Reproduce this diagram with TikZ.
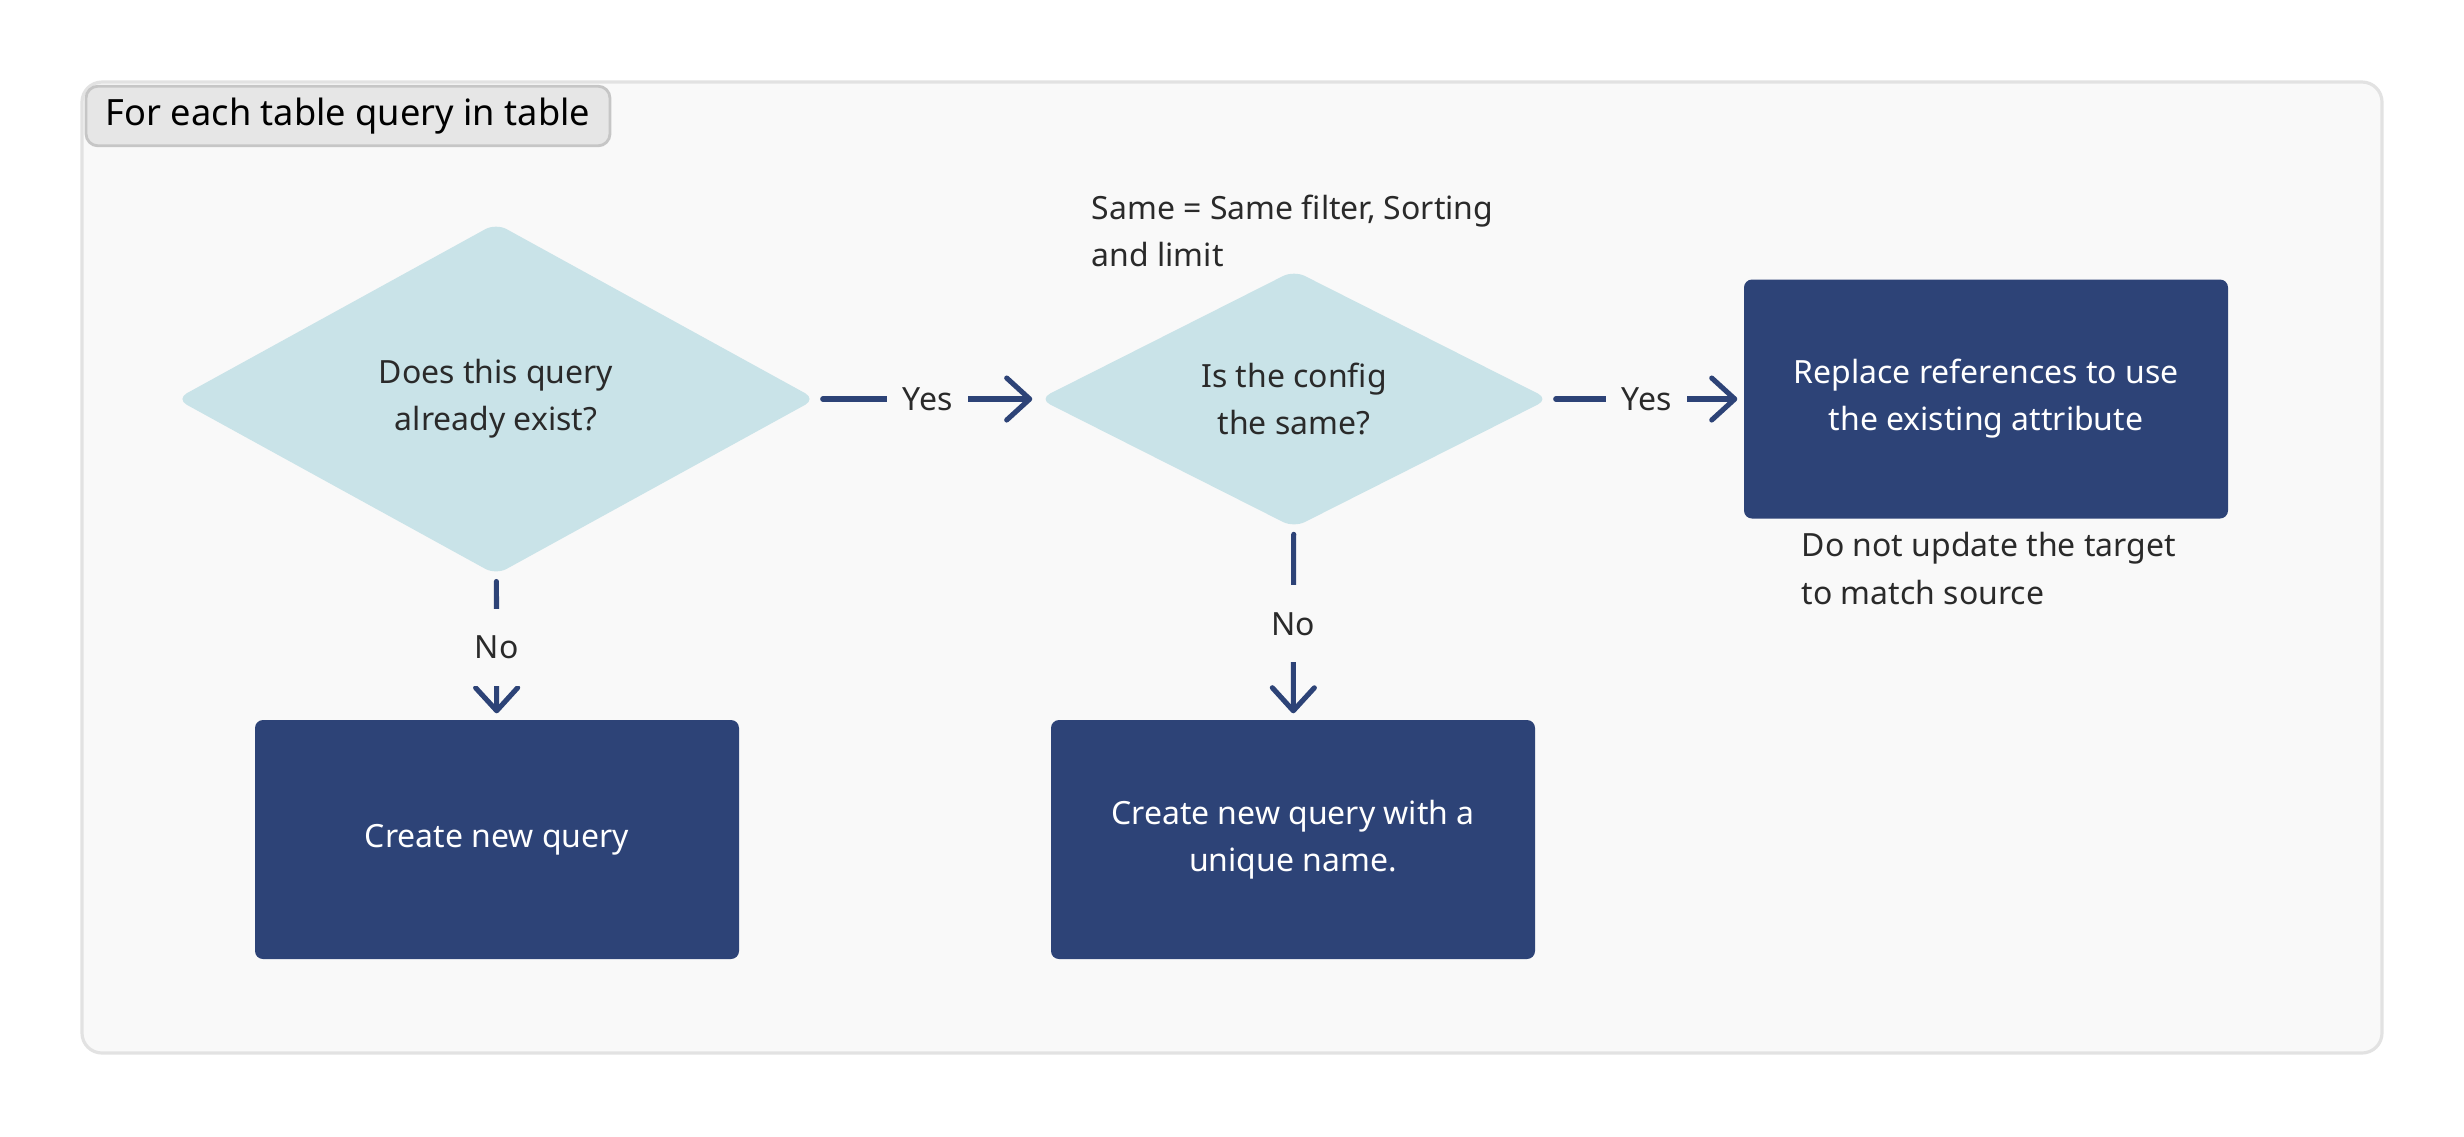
\documentclass[tikz,border=0pt]{standalone}
\usepackage{fontspec}
\setmainfont{Noto Sans}
\setsansfont{Noto Sans}
\usetikzlibrary{arrows.meta,positioning,shapes.geometric}
\definecolor{fqink}{HTML}{2A2A2A}
\definecolor{fqnavy}{HTML}{2D4377}
\definecolor{fqsky}{HTML}{C9E3E8}
\definecolor{fqframe}{HTML}{E2E2E2}
\definecolor{fqsurface}{HTML}{F9F9F9}
\definecolor{fqtag}{HTML}{E6E6E6}
\definecolor{fqtagline}{HTML}{C6C6C6}
\tikzset{
  frame/.style={draw=fqframe,fill=fqsurface,rounded corners=.2cm,line width=.9pt},
  tag/.style={draw=fqtagline,fill=fqtag,rounded corners=.12cm,line width=.8pt,font=\sffamily\fontsize{10.3}{12}\selectfont,text=black},
  decision/.style={diamond,draw=none,fill=fqsky,rounded corners=.12cm,inner sep=0pt,align=center,text=fqink,font=\sffamily\fontsize{9.1}{13.4}\selectfont},
  action/.style={rectangle,fill=fqnavy,rounded corners=.08cm,minimum width=4.84cm,minimum height=2.39cm,align=center,text=white,font=\sffamily\fontsize{9.1}{13.4}\selectfont},
  note/.style={anchor=west,inner sep=0pt,align=left,text=fqink,font=\sffamily\fontsize{9.1}{13.6}\selectfont},
  flow/.style={-{Straight Barb[length=.23cm,width=.42cm,line cap=round,line join=round]},draw=fqnavy,line width=1.45pt,line cap=round,shorten <=.06cm,shorten >=.06cm},
  lbl/.style={fill=fqsurface,text=fqink,inner xsep=.16cm,inner ysep=.27cm,font=\sffamily\fontsize{9.1}{10}\selectfont},
}
\begin{document}
\begin{tikzpicture}[font=\sffamily]
  \useasboundingbox[fill=white] (0,0) rectangle (24.64,-11.36);
  \node[frame,minimum width=23.0cm,minimum height=9.71cm] (loop) at (12.32,-5.675) {};
  \node[tag,minimum width=5.24cm,minimum height=.55cm] (title) at (3.48,-1.16) {For each table query in table};

  \node[decision,minimum width=6.4cm,minimum height=3.52cm] (exists) at (4.96,-3.99) {Does this query\\already exist?};
  \node[decision,minimum width=5.1cm,minimum height=2.39cm] (same) at (12.94,-3.99) {Is the config\\the same?};
  \node[action] (replace) at (19.86,-3.99) {Replace references to use\\the existing attribute};
  \node[action] (create) at (4.97,-8.395) {Create new query};
  \node[action] (unique) at (12.93,-8.395) {Create new query with a\\unique name.};

  \node[note] (samedef) at (10.91,-2.31) {Same = Same filter, Sorting\\and limit};
  \node[note] (keep) at (18.01,-5.685) {Do not update the target\\to match source};

  \draw[flow] (exists) -- node[lbl] {Yes} (same);
  \draw[flow] (same) -- node[lbl] {Yes} (replace);
  \draw[flow] (exists) -- node[lbl] {No} (create);
  \draw[flow] (same) -- node[lbl] {No} (unique);
\end{tikzpicture}
\end{document}
